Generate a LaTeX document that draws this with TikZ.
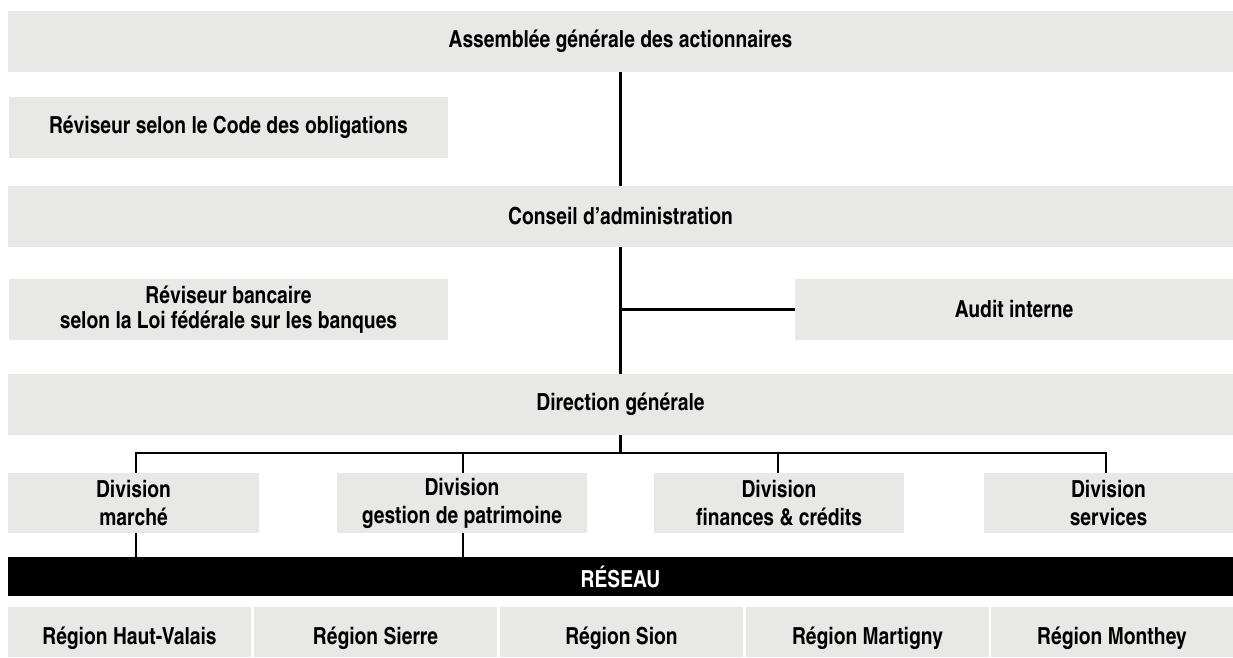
\documentclass[tikz,border=0pt]{standalone}
\usepackage{fontspec}
\setmainfont{texgyreheroscn-bold.otf}
\definecolor{boxgray}{RGB}{232,232,230}
\begin{document}
\begin{tikzpicture}[x=1pt,y=-1pt,
  box/.style={fill=boxgray,inner sep=0pt,align=center,font=\fontsize{23.5}{28}\selectfont},
  regbox/.style={box,minimum height=50pt,text height=25pt,text depth=0pt},
  main/.style={line width=3pt},
  sub/.style={line width=2pt}]
\useasboundingbox (0,0) rectangle (1233,657);
% top levels
\node[box,minimum width=1225pt,minimum height=61pt] (ag) at (620.5,41.5) {Assemblée générale des actionnaires};
\node[box,minimum width=439pt,minimum height=61pt] (rco) at (228.5,127.5) {Réviseur selon le Code des obligations};
\node[box,minimum width=1225pt,minimum height=61pt] (ca) at (620.5,216.5) {Conseil d’administration};
\node[box,minimum width=439pt,minimum height=61pt,font=\fontsize{23.5}{25}\selectfont] (rb) at (228.5,309.5) {Réviseur bancaire\\selon la Loi fédérale sur les banques};
\node[box,minimum width=438pt,minimum height=61pt] (ai) at (1014,309.5) {Audit interne};
\node[box,minimum width=1225pt,minimum height=61pt] (dg) at (620.5,404.5) {Direction générale};
% divisions
\node[box,minimum width=251pt,minimum height=60pt] (d1) at (133.5,503) {Division\\marché};
\node[box,minimum width=250pt,minimum height=60pt] (d2) at (462,503) {Division\\gestion de patrimoine};
\node[box,minimum width=250pt,minimum height=60pt] (d3) at (779,503) {Division\\finances \& crédits};
\node[box,minimum width=249pt,minimum height=60pt] (d4) at (1108.5,503) {Division\\services};
% network
\node[fill=black,text=white,inner sep=0pt,font=\fontsize{23.5}{28}\selectfont,minimum width=1225pt,minimum height=39pt] (res) at (620.5,576.5) {RÉSEAU};
% regions
\node[regbox,minimum width=243pt] (r1) at (129.5,632) {Région Haut-Valais};
\node[regbox,minimum width=243pt] (r2) at (375.5,632) {Région Sierre};
\node[regbox,minimum width=243pt] (r3) at (621.5,632) {Région Sion};
\node[regbox,minimum width=243pt] (r4) at (867.5,632) {Région Martigny};
\node[regbox,minimum width=242pt] (r5) at (1112,632) {Région Monthey};
% connector coordinates
\coordinate (mx) at (620,0);
\coordinate (bus) at (0,452.5);
\coordinate (c1) at (136,0);
\coordinate (c2) at (463,0);
\coordinate (c3) at (778,0);
\coordinate (c4) at (1106,0);
% connectors
\draw[main] (ag.south -| mx) -- (ca.north -| mx);
\draw[main] (ca.south -| mx) -- (dg.north -| mx);
\draw[main] (ai.west) -- (ai.west -| mx);
\draw[main] (dg.south -| mx) -- (bus -| mx);
\draw[sub] (d1.north -| c1) |- (bus -| c4) -- (d4.north -| c4);
\draw[sub] (d2.north -| c2) -- (bus -| c2);
\draw[sub] (d3.north -| c3) -- (bus -| c3);
\draw[sub] (d1.south -| c1) -- (res.north -| c1);
\draw[sub] (d2.south -| c2) -- (res.north -| c2);
\end{tikzpicture}
\end{document}
